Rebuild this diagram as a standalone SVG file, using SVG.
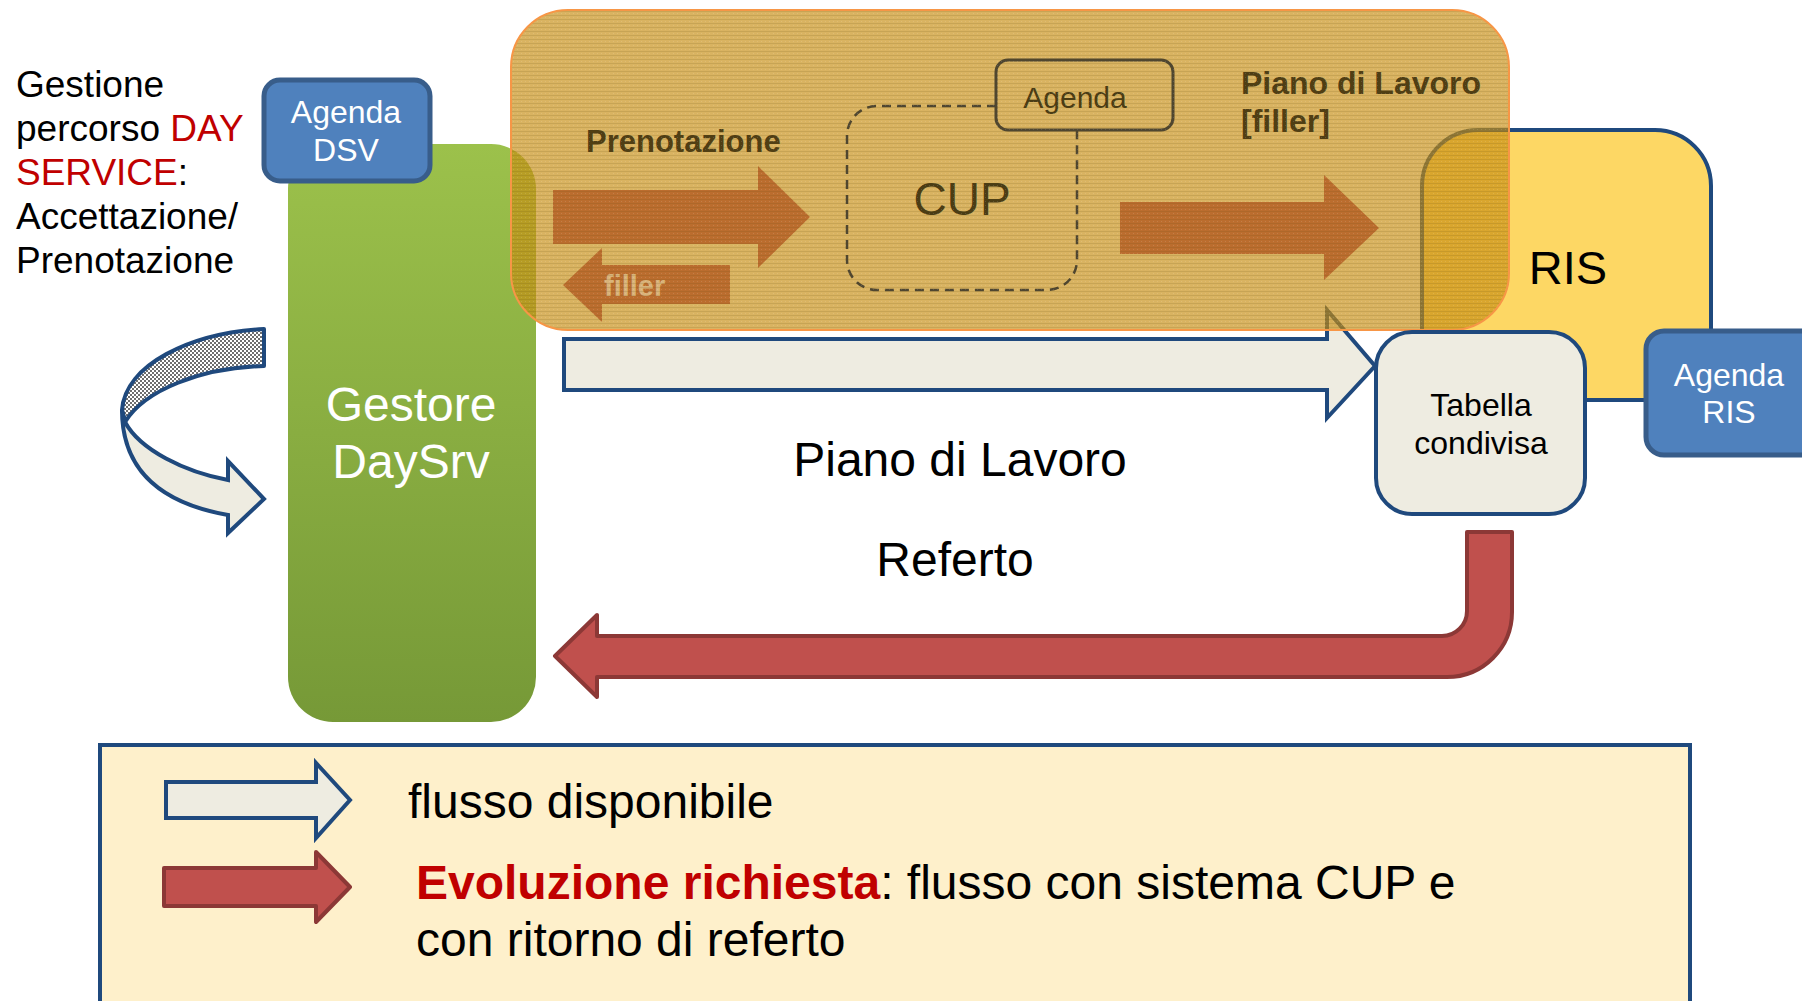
<svg xmlns="http://www.w3.org/2000/svg" width="1802" height="1001" viewBox="0 0 1802 1001">
<defs>
<style>
text{font-family:"Liberation Sans",Arial,sans-serif}
.blk{fill:#000}
.wht{fill:#fff}
.light{fill:#EEECE1;stroke:#1F497D;stroke-width:4;stroke-linejoin:miter}
.red{fill:#C0504D;stroke:#8C3836;stroke-width:4;stroke-linejoin:round}
.agenda{fill:#4F81BD;stroke:#385D8A;stroke-width:5}
.brn{fill:#B9672A;opacity:0.92}
.dk{fill:#4A3C14}
</style>
<linearGradient id="gGreen" x1="0" y1="0" x2="0" y2="1">
<stop offset="0" stop-color="#9CC14B"/>
<stop offset="1" stop-color="#769937"/>
</linearGradient>
<pattern id="checker" width="4" height="4" patternUnits="userSpaceOnUse">
<rect width="4" height="4" fill="#ffffff"/>
<rect width="2" height="2" fill="#6e6e6e"/>
<rect x="2" y="2" width="2" height="2" fill="#6e6e6e"/>
</pattern>
<pattern id="texture" width="4" height="4" patternUnits="userSpaceOnUse">
<rect y="3" width="4" height="1" fill="#5a4410" opacity="0.14"/>
<rect x="1" y="1" width="1" height="1" fill="#ffffff" opacity="0.12"/>
</pattern>
</defs>

<g id="legend">
<rect x="100" y="745" width="1590" height="270" fill="#FEF0CB" stroke="#1F497D" stroke-width="4"/>
<path class="light" d="M166,782 L316,782 L316,763 L350,800 L316,838 L316,818 L166,818 Z"/>
<path class="red" d="M164,868 L316,868 L316,852 L350,887 L316,922 L316,906 L164,906 Z"/>
<text x="408" y="818" font-size="48" class="blk">flusso disponibile</text>
<text x="416" y="899" font-size="48" class="blk"><tspan font-weight="bold" fill="#C00000">Evoluzione richiesta</tspan>: flusso con sistema CUP e</text>
<text x="416" y="956" font-size="48" class="blk">con ritorno di referto</text>
</g>

<g id="intro-text">
<text font-size="37" class="blk">
<tspan x="16" y="97">Gestione</tspan>
<tspan x="16" y="141">percorso <tspan fill="#C00000">DAY</tspan></tspan>
<tspan x="16" y="185"><tspan fill="#C00000">SERVICE</tspan>:</tspan>
<tspan x="16" y="229">Accettazione/</tspan>
<tspan x="16" y="273">Prenotazione</tspan>
</text>
</g>

<g id="gestore">
<rect x="288" y="144" width="248" height="578" rx="45" fill="url(#gGreen)"/>
<text x="411" y="421" font-size="48" class="wht" text-anchor="middle">Gestore</text>
<text x="411" y="478" font-size="48" class="wht" text-anchor="middle">DaySrv</text>
</g>

<g id="agenda-dsv">
<rect x="264" y="80" width="166" height="101" rx="16" class="agenda"/>
<text x="346" y="123" font-size="32" class="wht" text-anchor="middle">Agenda</text>
<text x="346" y="161" font-size="32" class="wht" text-anchor="middle">DSV</text>
</g>

<g id="ris">
<rect x="1422" y="130" width="289" height="270" rx="56" fill="#FDD764" stroke="#1F497D" stroke-width="4"/>
<text x="1568" y="284" font-size="47" class="blk" text-anchor="middle">RIS</text>
</g>

<g id="connectors">
<path id="loop-back" d="M264,329 C190,333 125,365 122,410 L125,422 C145,390 200,368 264,366 Z" fill="url(#checker)" stroke="#1F497D" stroke-width="4" stroke-linejoin="round"/>
<path id="loop-front" class="light" d="M122,410 L125,422 C140,450 185,472 228,480 L228,461 L264,499 L228,533 L228,515 C160,503 122,470 122,410 Z"/>
<path id="piano-arrow" class="light" d="M564,339 L1327,339 L1327,310 L1375,366 L1327,418 L1327,390 L564,390 Z"/>
<path id="referto-arrow" class="red" d="M1467,532 L1512,532 L1512,612 A65,65 0 0 1 1447,677 L597,677 L597,697 L555,656 L597,615 L597,636 L1442,636 A25,25 0 0 0 1467,611 Z"/>
</g>

<g id="cup-area">
<rect x="511" y="10" width="998" height="320" rx="57" fill="rgb(198,142,20)" fill-opacity="0.67"/>
<path class="brn" d="M553,190 L758,190 L758,166 L810,217 L758,268 L758,244 L553,244 Z"/>
<path class="brn" d="M1120,202 L1324,202 L1324,175 L1379,228 L1324,280 L1324,254 L1120,254 Z"/>
<path class="brn" d="M730,265 L602,265 L602,248 L563,285 L602,322 L602,304 L730,304 Z"/>
<text x="586" y="152" font-size="31" font-weight="bold" fill="#4F3E14">Prenotazione</text>
<text x="604" y="296" font-size="29" font-weight="bold" fill="#D9B37A">filler</text>
<path d="M996,106 L877,106 A30,30 0 0 0 847,136 L847,260 A30,30 0 0 0 877,290 L1047,290 A30,30 0 0 0 1077,260 L1077,130" fill="none" stroke="#4F4630" stroke-width="2.5" stroke-dasharray="9,6"/>
<text x="962" y="215" font-size="46" class="dk" text-anchor="middle">CUP</text>
<rect x="996" y="60" width="177" height="70" rx="12" fill="none" stroke="#4F4630" stroke-width="3"/>
<text x="1075" y="108" font-size="30" class="dk" text-anchor="middle">Agenda</text>
<text x="1241" y="94" font-size="32" font-weight="bold" fill="#4F3E14">Piano di Lavoro</text>
<text x="1241" y="132" font-size="32" font-weight="bold" fill="#4F3E14">[filler]</text>
<rect x="511" y="10" width="998" height="320" rx="57" fill="url(#texture)"/>
<rect x="511" y="10" width="998" height="320" rx="57" fill="none" stroke="#F79646" stroke-width="2"/>
</g>

<g id="tabella">
<rect x="1376" y="332" width="209" height="182" rx="36" fill="#EEECE1" stroke="#1F497D" stroke-width="4"/>
<text x="1481" y="416" font-size="32" class="blk" text-anchor="middle">Tabella</text>
<text x="1481" y="454" font-size="32" class="blk" text-anchor="middle">condivisa</text>
</g>

<g id="agenda-ris">
<rect x="1646" y="331" width="180" height="124" rx="18" class="agenda"/>
<text x="1729" y="386" font-size="32" class="wht" text-anchor="middle">Agenda</text>
<text x="1729" y="423" font-size="32" class="wht" text-anchor="middle">RIS</text>
</g>

<g id="labels">
<text x="960" y="476" font-size="48" class="blk" text-anchor="middle">Piano di Lavoro</text>
<text x="955" y="576" font-size="48" class="blk" text-anchor="middle">Referto</text>
</g>
</svg>
